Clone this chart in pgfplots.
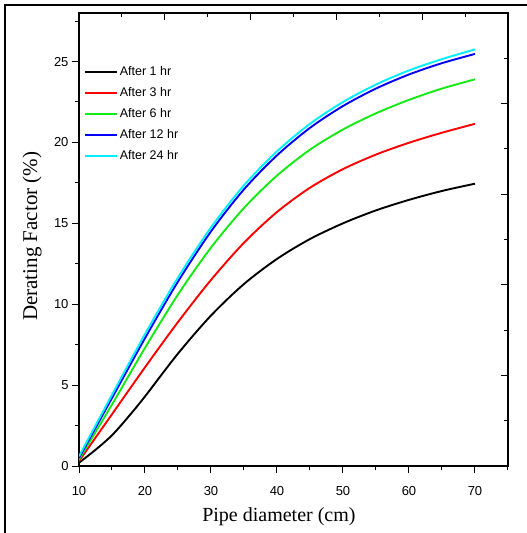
\documentclass[border=0pt]{standalone}
\usepackage{fontspec}
\setmainfont{Liberation Serif}
\newfontfamily\arialf{Liberation Sans}
\usepackage{pgfplots}
\pgfplotsset{compat=1.18}
\definecolor{cgreen}{RGB}{20,235,20}
\definecolor{cblue}{RGB}{0,0,245}
\definecolor{ccyan}{RGB}{0,240,255}
\begin{document}
\begin{tikzpicture}
\path[use as bounding box] (0bp,0bp) rectangle (527bp,533bp);
\draw[line width=2bp] (5bp,0bp) -- (5bp,528bp) -- (527bp,528bp);
\begin{axis}[
  at={(79bp,67bp)}, anchor=south west,
  scale only axis, width=429bp, height=453bp,
  xmin=10, xmax=75, ymin=0, ymax=28,
  axis line style={line width=1.1bp},
  tick style={line width=1bp, black},
  tick align=outside,
  xtick pos=left, ytick pos=left,
  xtick={10,20,...,70}, minor xtick={15,25,...,75},
  ytick={0,5,...,25}, minor ytick={2.5,7.5,...,27.5},
  major tick length=7bp, minor tick length=4bp,
  /pgf/number format/assume math mode=true,
  ticklabel style={font=\arialf\fontsize{13bp}{15bp}\selectfont},
  xticklabel style={yshift=-10bp},
  xlabel={Pipe diameter (cm)},
  ylabel={Derating Factor (\%)},
  xlabel style={font=\fontsize{20bp}{24bp}\selectfont, at={(axis description cs:0.466,-0.1126)}, anchor=center},
  ylabel style={font=\fontsize{21bp}{24bp}\selectfont, at={(axis description cs:-0.1096,0.507)}, anchor=center},
  legend style={draw=none, fill=none, at={(axis description cs:0.012,0.886)}, anchor=north west,
    font=\arialf\fontsize{12.5bp}{14bp}\selectfont, row sep=7.5bp, inner sep=0pt,
    nodes={inner sep=1.5bp}},
  legend cell align=left,
  legend image code/.code={\draw[#1, line width=2bp] (0bp,0bp) -- (32bp,0bp);},
  /tikz/every even column/.append style={column sep=3bp},
  every axis plot/.append style={line width=1.9bp, smooth, no markers},
]
\addplot[black] coordinates {(10,0.2) (12.5,1.0) (15,1.9) (17.5,3.05) (20,4.3) (25,6.95) (30,9.3) (35,11.25) (40,12.8) (45,14.03) (50,15.0) (55,15.8) (60,16.45) (65,17.0) (70,17.45)};
\addplot[red] coordinates {(10,0.3) (15,3.2) (20,6.1) (25,8.9) (30,11.5) (35,13.8) (40,15.7) (45,17.2) (50,18.35) (55,19.25) (60,19.98) (65,20.6) (70,21.15)};
\addplot[cgreen] coordinates {(10,0.4) (15,3.8) (20,7.3) (25,10.6) (30,13.5) (35,15.95) (40,17.95) (45,19.55) (50,20.8) (55,21.8) (60,22.63) (65,23.33) (70,23.9)};
\addplot[cblue] coordinates {(10,0.5) (15,4.2) (20,7.9) (25,11.4) (30,14.5) (35,17.1) (40,19.2) (45,20.9) (50,22.25) (55,23.33) (60,24.2) (65,24.9) (70,25.47)};
\addplot[ccyan] coordinates {(10,0.6) (15,4.4) (20,8.15) (25,11.65) (30,14.75) (35,17.35) (40,19.45) (45,21.15) (50,22.5) (55,23.58) (60,24.45) (65,25.15) (70,25.75)};
\legend{After 1 hr, After 3 hr, After 6 hr, After 12 hr, After 24 hr}
\end{axis}
\begin{axis}[
  at={(79bp,67bp)}, anchor=south west,
  scale only axis, width=429bp, height=453bp,
  xmin=0, xmax=10, ymin=0, ymax=10,
  axis line style={draw=none},
  tick style={line width=1bp, black},
  tick align=inside,
  xtick pos=right, ytick pos=right,
  xtick={0,2,...,10}, minor xtick={1,3,...,9},
  ytick={0,2,...,10}, minor ytick={1,3,...,9},
  major tick length=7bp, minor tick length=4bp,
  xticklabels={}, yticklabels={},
]
\end{axis}
\end{tikzpicture}
\end{document}
